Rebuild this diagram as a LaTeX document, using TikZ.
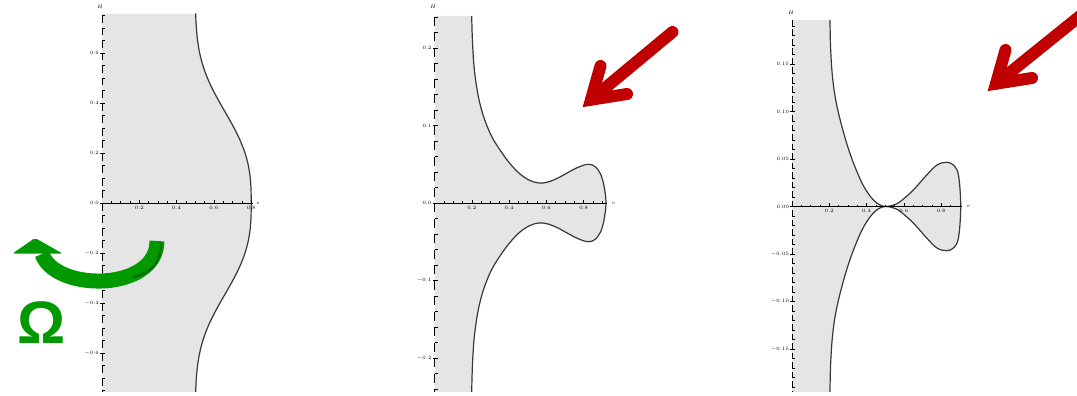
\documentclass[tikz,border=0pt]{standalone}
\usepackage{fontspec}
\newfontfamily\omegafont{Liberation Sans}
\usetikzlibrary{calc}

\definecolor{arrowred}{RGB}{192,0,0}
\definecolor{omegagreen}{RGB}{0,153,0}
\definecolor{omegadark}{RGB}{0,110,0}

\begin{document}
\begin{tikzpicture}[
  x=1pt, y=-1pt,
  plotfill/.style={fill=black!10},
  curve/.style={draw=black!78, line width=1.2pt},
  axisline/.style={draw=black, line width=0.8pt},
  vaxis/.style={axisline, dash pattern=#1},
  tickmark/.style={draw=black, line width=0.6pt},
  ticklabel/.style={font=\fontsize{5}{6}\selectfont, inner sep=0.4pt},
  axislabel/.style={font=\fontsize{5.5}{6}\selectfont, inner sep=0.4pt},
  redarrow/.style={draw=arrowred, line width=12pt, line cap=round, line join=miter},
  greenarrow/.style={draw=omegagreen, line width=15pt},
  omegalabel/.style={text=omegagreen, inner sep=0pt,
    font=\omegafont\bfseries\fontsize{60}{60}\selectfont},
]

\useasboundingbox (0,0) rectangle (1077,396);
\clip (0,0) rectangle (1077,396);

\def\sv{9.325}   % px per 0.05 in v, all panels
\def\xOa{102}   \def\yOa{203}
\def\xOb{434.5} \def\yOb{203}
\def\xOc{792}   \def\yOc{206.5}

\def\curveA{-- plot[domain=0.756:-0.756, samples=80]
  ({\xOa+186.5*(0.5+0.3*exp(0-pow(abs(\x)/0.43,2.8)))}, {\yOa-250*\x})}

\def\curveB{-- plot[smooth, tension=0.6] coordinates {
  (471.7,16) (472.4,40) (474,66) (476.8,88) (480.5,106) (485.5,122)
  (492,137) (500,150) (509.5,163) (520,174) (530,180.5) (539,183)
  (548,182) (558,178) (568,172.5) (578,167.3) (588,164.3) (595,166.5)
  (600.5,174) (604,186) (606,203)
  (604,220) (600.5,232) (595,239.5) (588,241.7) (578,238.7) (568,233.5)
  (558,228) (548,224) (539,223) (530,225.5) (520,232) (509.5,243)
  (500,256) (492,269) (485.5,284) (480.5,300) (476.8,318) (474,340)
  (472.4,366) (471.7,392)}}

\def\curveC{-- plot[smooth, tension=0.6] coordinates {
  (830,20) (830.6,48) (832.6,78) (836.5,104) (843.5,132.4) (851,156.3)
  (860,178.8) (867,191.7) (874,200.6) (880,205) (886,206.5) (893,205.2)
  (900,201.7) (913.3,190) (926.7,175) (937,165) (946.7,162.3) (954,165.5)
  (958.6,176) (960.7,206.5)
  (958.6,237) (954,247.5) (946.7,250.7) (937,248) (926.7,238) (913.3,223)
  (900,211.3) (893,207.8) (886,206.5) (880,208) (874,212.4) (867,221.3)
  (860,234.2) (851,256.7) (843.5,280.6) (836.5,309) (832.6,335)
  (830.6,365) (830,392)}}

%% ====================================================================
%%  PANEL 1
%% ====================================================================
\fill[plotfill] (\xOa,14) \curveA -- (\xOa,392) -- cycle;
\draw[curve] ({\xOa+186.5*0.5},14) \curveA;

\draw[vaxis={on 7.5pt off 5pt}] (\xOa,15.5) -- (\xOa,392);
\draw[axisline] (\xOa,\yOa) -- (253,\yOa);
\foreach \k in {-15,...,15}
  \draw[tickmark] (\xOa,{\yOa-12.5*\k}) -- ++(3,0);
\foreach \k/\t in {12/0.6, 8/0.4, 4/0.2, 0/0.0, -4/{$-0.2$}, -8/{$-0.4$}, -12/{$-0.6$}}{
  \draw[tickmark] (\xOa-2,{\yOa-12.5*\k}) -- ++(5,0);
  \node[ticklabel, anchor=east] (ya\k) at (\xOa-2.5,{\yOa-12.5*\k}) {\t};
}
\foreach \k in {1,...,16}
  \draw[tickmark] ({\xOa+\sv*\k},\yOa) -- ++(0,-2);
\foreach \k/\t in {4/0.2, 8/0.4, 12/0.6, 16/0.8}{
  \draw[tickmark] ({\xOa+\sv*\k},\yOa) -- ++(0,-3.5);
  \node[ticklabel, anchor=north] (xa\k) at ({\xOa+\sv*\k},\yOa+2.5) {\t};
}
\node[axislabel] (Ha) at (100,7) {$H$};
\node[axislabel, anchor=west] (va) at (255.5,\yOa) {$v$};

%% ====================================================================
%%  PANEL 2
%% ====================================================================
\fill[plotfill] (\xOb,16) \curveB -- (\xOb,392) -- cycle;
\draw[curve] (471.7,16) \curveB;

\draw[vaxis={on 9pt off 6.5pt}] (\xOb,17) -- (\xOb,392);
\draw[axisline] (\xOb,\yOb) -- (607,\yOb);
\foreach \k in {-12,...,12}
  \draw[tickmark] (\xOb,{\yOb-15.5*\k}) -- ++(3,0);
\foreach \k/\t in {10/0.2, 5/0.1, 0/0.0, -5/{$-0.1$}, -10/{$-0.2$}}{
  \draw[tickmark] (\xOb-2,{\yOb-15.5*\k}) -- ++(5,0);
  \node[ticklabel, anchor=east] (yb\k) at (\xOb-2.5,{\yOb-15.5*\k}) {\t};
}
\foreach \k in {1,...,18}
  \draw[tickmark] ({\xOb+\sv*\k},\yOb) -- ++(0,-2);
\foreach \k/\t in {4/0.2, 8/0.4, 12/0.6, 16/0.8}{
  \draw[tickmark] ({\xOb+\sv*\k},\yOb) -- ++(0,-3.5);
  \node[ticklabel, anchor=north] (xb\k) at ({\xOb+\sv*\k},\yOb+2.5) {\t};
}
\node[axislabel] (Hb) at (433,7) {$H$};
\node[axislabel, anchor=west] (vb) at (611,\yOb) {$v$};

%% ====================================================================
%%  PANEL 3
%% ====================================================================
\fill[plotfill] (\xOc,20) \curveC -- (\xOc,392) -- cycle;
\draw[curve] (830,20) \curveC;

\draw[vaxis={on 6pt off 3.5pt}] (\xOc,20) -- (\xOc,392);
\draw[axisline] (\xOc,\yOc) -- (962,\yOc);
\foreach \k in {-19,...,19}
  \draw[tickmark] (\xOc,{\yOc-9.5*\k}) -- ++(3,0);
\foreach \k/\t in {15/0.15, 10/0.10, 5/0.05, 0/0.00, -5/{$-0.05$}, -10/{$-0.10$}, -15/{$-0.15$}}{
  \draw[tickmark] (\xOc-2,{\yOc-9.5*\k}) -- ++(5,0);
  \node[ticklabel, anchor=east] (yc\k) at (\xOc-2.5,{\yOc-9.5*\k}) {\t};
}
\foreach \k in {1,...,18}
  \draw[tickmark] ({\xOc+\sv*\k},\yOc) -- ++(0,-2);
\foreach \k/\t in {4/0.2, 8/0.4, 12/0.6, 16/0.8}{
  \draw[tickmark] ({\xOc+\sv*\k},\yOc) -- ++(0,-3.5);
  \node[ticklabel, anchor=north] (xc\k) at ({\xOc+\sv*\k},\yOc+2.5) {\t};
}
\node[axislabel] (Hc) at (791,13) {$H$};
\node[axislabel, anchor=west] (vc) at (966,\yOc) {$v$};

%% ====================================================================
%%  GREEN ROTATION ARROW + OMEGA
%% ====================================================================
\draw[greenarrow] (157,241) .. controls (157,292) and (55,292) .. (42,254);
\draw[omegadark, line width=2.5pt] (161,243) .. controls (161,266) and (147,274) .. (133,277);
\fill[omegagreen, rounded corners=2pt] (35,238) -- (12.5,253.5) -- (62.5,253.5) -- cycle;
\node[omegalabel] (omega) at (42,323) {Ω};

%% ====================================================================
%%  RED ARROWS
%% ====================================================================
\coordinate (tailB) at (672.5,32);
\coordinate (tipB)  at (591,99.7);
\draw[redarrow] (tailB) -- (tipB);
\draw[redarrow] (600.5,66) -- (tipB) -- (627,94);

\coordinate (tailC) at (1085,12);
\coordinate (tipC)  at (996,83.7);
\draw[redarrow] (tailC) -- (tipC);
\draw[redarrow] (1005.5,50) -- (tipC) -- (1032,78);

\end{tikzpicture}
\end{document}
